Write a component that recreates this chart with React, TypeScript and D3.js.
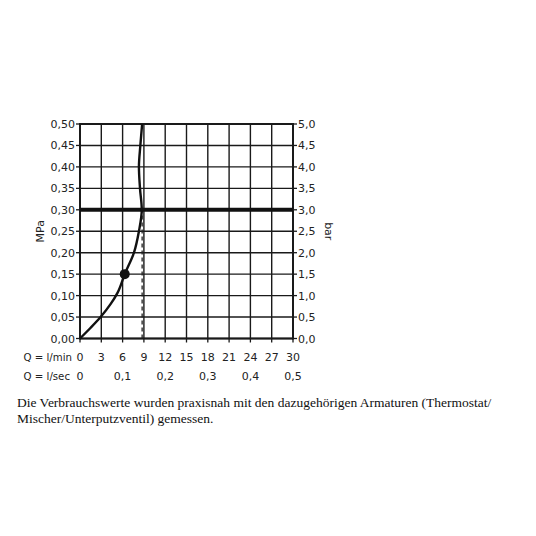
import React from "react";
import * as d3 from "d3";

const flowTicks = [0, 3, 6, 9, 12, 15, 18, 21, 24, 27, 30];
const secTicks = [0, 0.1, 0.2, 0.3, 0.4, 0.5];
const mpaTicks = [0, 0.05, 0.1, 0.15, 0.2, 0.25, 0.3, 0.35, 0.4, 0.45, 0.5];
const barTicks = [0, 0.5, 1, 1.5, 2, 2.5, 3, 3.5, 4, 4.5, 5];

const curveFlow = [0, 1.5, 2.9, 4.3, 5.3, 6.3, 7.6, 8.3, 8.7, 8.45, 8.3, 8.5, 8.75];
const curvePressure = [0, 0.025, 0.05, 0.08, 0.107, 0.15, 0.2, 0.25, 0.3, 0.35, 0.4, 0.45, 0.5];
const markerPoint = { flow: 6.3, pressure: 0.15 };
const refPressure = 0.3;
const refFlow = 8.75;

const caption = [
  "Die Verbrauchswerte wurden praxisnah mit den dazugehörigen Armaturen (Thermostat/",
  "Mischer/Unterputzventil) gemessen.",
];

const fmt = (v: number, d: number) => v.toFixed(d).replace(".", ",");

export default function App() {
  const x = d3.scaleLinear().domain([0, 30]).range([80, 293]);
  const y = d3.scaleLinear().domain([0, 0.5]).range([338.5, 124]);
  const yBar = d3.scaleLinear().domain([0, 5]).range([338.5, 124]);
  const xSec = d3.scaleLinear().domain([0, 0.5]).range([80, 293]);

  const pts: [number, number][] = curveFlow.map((f, i) => [f, curvePressure[i]]);
  const line = d3
    .line<[number, number]>()
    .x((d) => x(d[0]))
    .y((d) => y(d[1]))
    .curve(d3.curveMonotoneY);

  const font = "DejaVu Sans, sans-serif";
  const col = "#1a1a1a";

  return (
    <svg
      width={536}
      height={536}
      style={{ position: "absolute", left: 0, top: 0, background: "#fff" }}
    >
      {flowTicks.map((t) => (
        <line key={"gv" + t} x1={x(t)} x2={x(t)} y1={y(0)} y2={y(0.5)} stroke={col} strokeWidth={1.4} />
      ))}
      {mpaTicks.map((t) => (
        <line key={"gh" + t} x1={x(0)} x2={x(30)} y1={y(t)} y2={y(t)} stroke={col} strokeWidth={1.4} />
      ))}
      <line x1={x(0)} x2={x(0)} y1={y(0) + 1} y2={y(0.5) - 1} stroke={col} strokeWidth={2} />
      <line x1={x(30)} x2={x(30)} y1={y(0) + 1} y2={y(0.5) - 1} stroke={col} strokeWidth={2} />
      <line x1={x(0)} x2={x(30)} y1={y(0)} y2={y(0)} stroke={col} strokeWidth={2} />
      <line x1={x(0)} x2={x(30)} y1={y(0.5)} y2={y(0.5)} stroke={col} strokeWidth={2} />
      {mpaTicks.map((t) => (
        <line key={"tl" + t} x1={x(0) - 4} x2={x(0)} y1={y(t)} y2={y(t)} stroke={col} strokeWidth={1.3} />
      ))}
      {barTicks.map((t) => (
        <line key={"tr" + t} x1={x(30)} x2={x(30) + 4} y1={yBar(t)} y2={yBar(t)} stroke={col} strokeWidth={1.3} />
      ))}
      {flowTicks.map((t) => (
        <line key={"tb" + t} x1={x(t)} x2={x(t)} y1={y(0)} y2={y(0) + 4} stroke={col} strokeWidth={1.3} />
      ))}
      <line x1={x(0)} x2={x(30)} y1={y(refPressure)} y2={y(refPressure)} stroke="#111" strokeWidth={4} />
      <line
        x1={x(refFlow)}
        x2={x(refFlow)}
        y1={y(0)}
        y2={y(refPressure)}
        stroke="#222"
        strokeWidth={1.3}
        strokeDasharray="4,3"
      />
      <path d={line(pts) || ""} fill="none" stroke="#111" strokeWidth={2.4} />
      <circle cx={x(markerPoint.flow)} cy={y(markerPoint.pressure)} r={5} fill="#111" />
      {mpaTicks.map((t) => (
        <text key={"ll" + t} x={x(0) - 5} y={y(t) + 4} textAnchor="end" fontFamily={font} fontSize={11} fill="#222">
          {fmt(t, 2)}
        </text>
      ))}
      {barTicks.map((t) => (
        <text key={"rl" + t} x={x(30) + 5} y={yBar(t) + 4} textAnchor="start" fontFamily={font} fontSize={11} fill="#222">
          {fmt(t, 1)}
        </text>
      ))}
      {flowTicks.map((t) => (
        <text key={"bl" + t} x={x(t)} y={361} textAnchor="middle" fontFamily={font} fontSize={11} fill="#222">
          {t}
        </text>
      ))}
      {secTicks.map((t) => (
        <text key={"sl" + t} x={xSec(t)} y={380} textAnchor="middle" fontFamily={font} fontSize={11} fill="#222">
          {t === 0 ? "0" : fmt(t, 1)}
        </text>
      ))}
      <text x={72} y={361} textAnchor="end" fontFamily={font} fontSize={10.2} fill="#222">
        Q = l/min
      </text>
      <text x={70} y={380} textAnchor="end" fontFamily={font} fontSize={10.2} fill="#222">
        Q = l/sec
      </text>
      <text
        transform={`translate(44,${y(0.25)}) rotate(-90)`}
        textAnchor="middle"
        fontFamily={font}
        fontSize={11}
        fill="#222"
      >
        MPa
      </text>
      <text
        transform={`translate(325,${y(0.25)}) rotate(90)`}
        textAnchor="middle"
        fontFamily={font}
        fontSize={11}
        fill="#222"
      >
        bar
      </text>
      {caption.map((c, i) => (
        <text key={"c" + i} x={17} y={407 + i * 16} fontFamily="Liberation Serif, serif" fontSize={13.5} fill="#111">
          {c}
        </text>
      ))}
    </svg>
  );
}
